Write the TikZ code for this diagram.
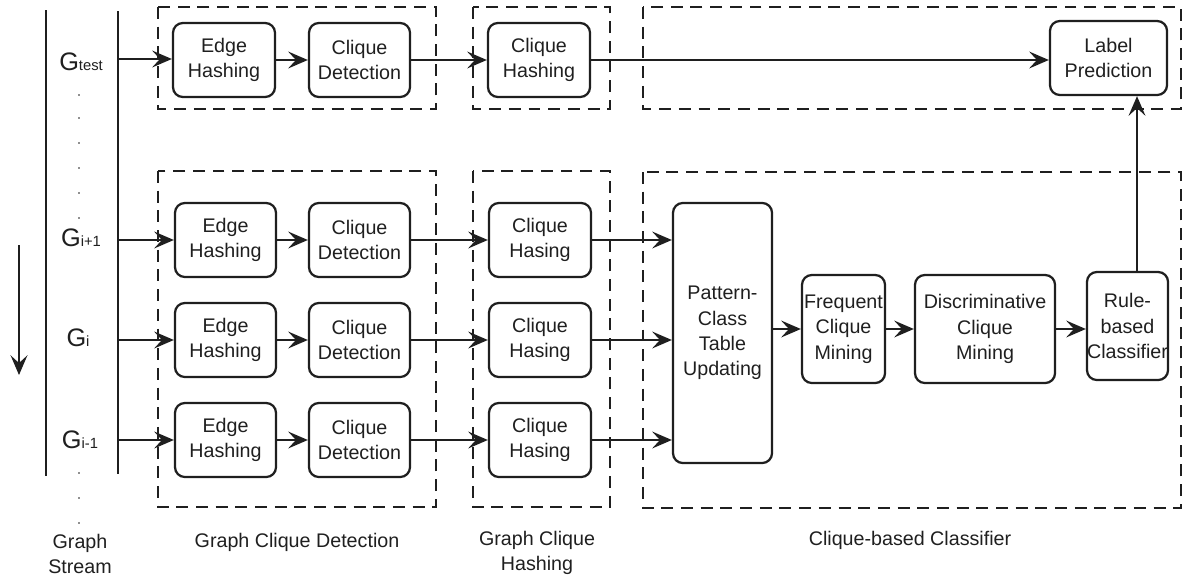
\documentclass[tikz,border=0pt]{standalone}
\usepackage{fontspec}
\setmainfont{Liberation Sans}
\usetikzlibrary{arrows.meta}

\begin{document}
\begin{tikzpicture}[x=0.025cm,y=-0.025cm,color=black!88,
  every node/.style={font=\fontsize{14}{18}\selectfont,align=center},
  box/.style={draw,line width=1.6pt,rounded corners=7pt,inner sep=0pt},
  sz/.style 2 args={minimum width=#1*0.7113pt,minimum height=#2*0.7113pt},
  group/.style={draw,line width=1.5pt,dash pattern=on 8.5pt off 5.5pt},
  arr/.style={-{Stealth[length=14pt,width=12pt,inset=5.5pt]},line width=1.5pt},
  glabel/.style={font=\fontsize{18}{20}\selectfont}]
\useasboundingbox (0,0) rectangle (1194,580);

% dashed groups
\draw[group] (158,7) rectangle (436,109);
\draw[group] (158,171) rectangle (436,507);
\draw[group] (473,7) rectangle (610,109);
\draw[group] (473,171) rectangle (610,507);
\draw[group] (643,7) rectangle (1181,109);
\draw[group] (643,172) rectangle (1181,508);

% graph stream
\draw[line width=1.5pt] (46,10) -- (46,476);
\draw[line width=1.5pt] (118,11) -- (118,474);
\draw[arr] (19,245) -- (19,375);
\node[glabel] (gt) at (81,62) {G{\fontsize{10.5}{12}\selectfont test}};
\node[glabel] (g1) at (81,238) {G{\fontsize{10.5}{12}\selectfont i+1}};
\node[glabel] (g2) at (78,338) {G{\fontsize{10.5}{12}\selectfont i}};
\node[glabel] (g3) at (80,440) {G{\fontsize{10.5}{12}\selectfont i-1}};
\foreach \y in {95,118,143,168,193,218,473,498,523}
  \fill (79,\y) circle (0.7pt);

% test graph
\coordinate (st) at (118,59);
\node[box,sz={102}{74}] (eht) at (224,60) {Edge\\Hashing};
\node[box,sz={101}{74}] (cdt) at (359.5,60) {Clique\\Detection};
\node[box,sz={102}{74}] (cht) at (539,60) {Clique\\Hashing};
\node[box,sz={117}{74}] (lp) at (1108.5,58) {Label\\Prediction};
\draw[arr] (st) -- (st -| eht.west);
\draw[arr] (eht) -- (cdt);
\draw[arr] (cdt) -- (cht);
\draw[arr] (cht.east) -- (cht.east -| lp.west);

% training graphs
\foreach \y/\n in {240/1,340/2,440/3}{
  \coordinate (s\n) at (118,\y);
  \node[box,sz={101}{74}] (eh\n) at (225.5,\y) {Edge\\Hashing};
  \node[box,sz={101}{74}] (cd\n) at (359.5,\y) {Clique\\Detection};
  \node[box,sz={102}{74}] (ch\n) at (540,\y) {Clique\\Hasing};
}
\node[box,sz={99}{260}] (pat) at (722.5,333) {Pattern-\\Class\\Table\\Updating};
\node[box,sz={83}{108}] (freq) at (843.5,329) {Frequent\\Clique\\Mining};
\node[box,sz={140}{108}] (disc) at (985,329) {Discriminative\\Clique\\Mining};
\node[box,sz={81}{108}] (rule) at (1127.5,326) {Rule-\\based\\Classifier};
\foreach \n in {1,2,3}{
  \draw[arr] (s\n) -- (eh\n);
  \draw[arr] (eh\n) -- (cd\n);
  \draw[arr] (cd\n) -- (ch\n);
  \draw[arr] (ch\n.east) -- (ch\n.east -| pat.west);
}
\draw[arr] (pat.east |- freq) -- (freq);
\draw[arr] (freq) -- (disc);
\draw[arr] (disc.east) -- (disc.east -| rule.west);
\coordinate (up) at (1137,272);
\draw[arr] (up) -- (up |- lp.south);

% captions
\node (cap1) at (80,554) {Graph\\Stream};
\node (cap2) at (297,542) {Graph Clique Detection};
\node (cap3) at (537,553) {Graph Clique\\Hashing};
\node (cap4) at (910,540) {Clique-based Classifier};
\end{tikzpicture}
\end{document}
